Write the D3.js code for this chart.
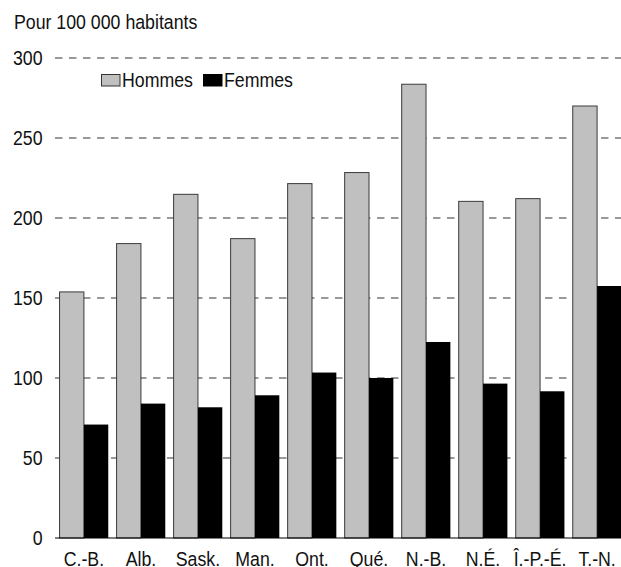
<!DOCTYPE html>
<html>
<head>
<meta charset="utf-8">
<script src="https://cdn.jsdelivr.net/npm/d3@7"></script>
<style>
  html, body { margin: 0; padding: 0; background: #fff; }
  svg { display: block; font-family: "Liberation Sans", Arial, sans-serif; }
</style>
</head>
<body>
<svg id="chart" width="621" height="567"></svg>
<script>
// Taux pour 100 000 habitants, par province
const provinces = ["C.-B.", "Alb.", "Sask.", "Man.", "Ont.", "Qué.", "N.-B.", "N.É.", "Î.-P.-É.", "T.-N."];
const hommes = [153.8, 184.0, 214.8, 187.1, 221.5, 228.4, 283.6, 210.4, 212.1, 270.0];
const femmes = [70.9, 84.0, 81.7, 89.2, 103.4, 100.0, 122.5, 96.5, 91.7, 157.5];
const seriesNames = ["Hommes", "Femmes"];
const seriesColors = ["#c0c0c0", "#000000"];
const yTicks = [0, 50, 100, 150, 200, 250, 300];
const unitLabel = "Pour 100 000 habitants";

const svg = d3.select("#chart");
const W = 621;
const fontSize = 19.5;
const squeeze = 0.91; // slightly condensed lettering

const y = d3.scaleLinear().domain([0, 300]).range([538, 58]);
const x0 = d3.scaleBand().domain(provinces).range([55, 626]).paddingInner(0.146).paddingOuter(0.08);
const x1 = d3.scaleBand().domain(seriesNames).range([0, x0.bandwidth()]);

// Text helper: places a condensed label at (x, y)
function label(parent, x, yPos, str, anchor) {
  return parent.append("text")
    .attr("transform", `translate(${x},${yPos}) scale(${squeeze},1)`)
    .attr("text-anchor", anchor || "start")
    .attr("font-size", fontSize).attr("fill", "#111")
    .text(str);
}

// Unit label
label(svg, 14, 29, unitLabel);

// Dashed gridlines
svg.append("g").selectAll("line")
  .data(yTicks.filter(d => d > 0))
  .join("line")
  .attr("x1", 55).attr("x2", W)
  .attr("y1", d => y(d)).attr("y2", d => y(d))
  .attr("stroke", "#333").attr("stroke-width", 1)
  .attr("stroke-dasharray", "7.5,6.5");

// Y tick labels
const yLabels = svg.append("g");
yTicks.forEach(t => label(yLabels, 42.5, y(t) + 7, String(t), "end"));

// Bars
const rows = provinces.map((p, i) => ({ p, values: [hommes[i], femmes[i]] }));
const groups = svg.append("g").selectAll("g")
  .data(rows)
  .join("g")
  .attr("transform", d => `translate(${x0(d.p)},0)`);

groups.selectAll("rect")
  .data(d => d.values.map((v, k) => ({ k, v })))
  .join("rect")
  .attr("x", d => x1(seriesNames[d.k]))
  .attr("width", x1.bandwidth())
  .attr("y", d => y(d.v))
  .attr("height", d => y(0) - y(d.v))
  .attr("fill", d => seriesColors[d.k])
  .attr("stroke", d => d.k === 0 ? "#3a3a3a" : "none")
  .attr("stroke-width", 1);

// Baseline
svg.append("line")
  .attr("x1", 55).attr("x2", W)
  .attr("y1", y(0)).attr("y2", y(0))
  .attr("stroke", "#000").attr("stroke-width", 1.2);

// Category labels
const xLabels = svg.append("g");
provinces.forEach(p => label(xLabels, x0(p) + x0.bandwidth() / 2, 565.5, p, "middle"));

// Legend
const legend = svg.append("g");
const legendX = [101, 203];
seriesNames.forEach((name, k) => {
  legend.append("rect")
    .attr("x", legendX[k] + 0.5).attr("y", 74.5)
    .attr("width", 18.5).attr("height", 11.5)
    .attr("fill", seriesColors[k])
    .attr("stroke", k === 0 ? "#333" : "#000").attr("stroke-width", 1);
  label(legend, legendX[k] + 21, 86.5, name);
});
</script>
</body>
</html>
